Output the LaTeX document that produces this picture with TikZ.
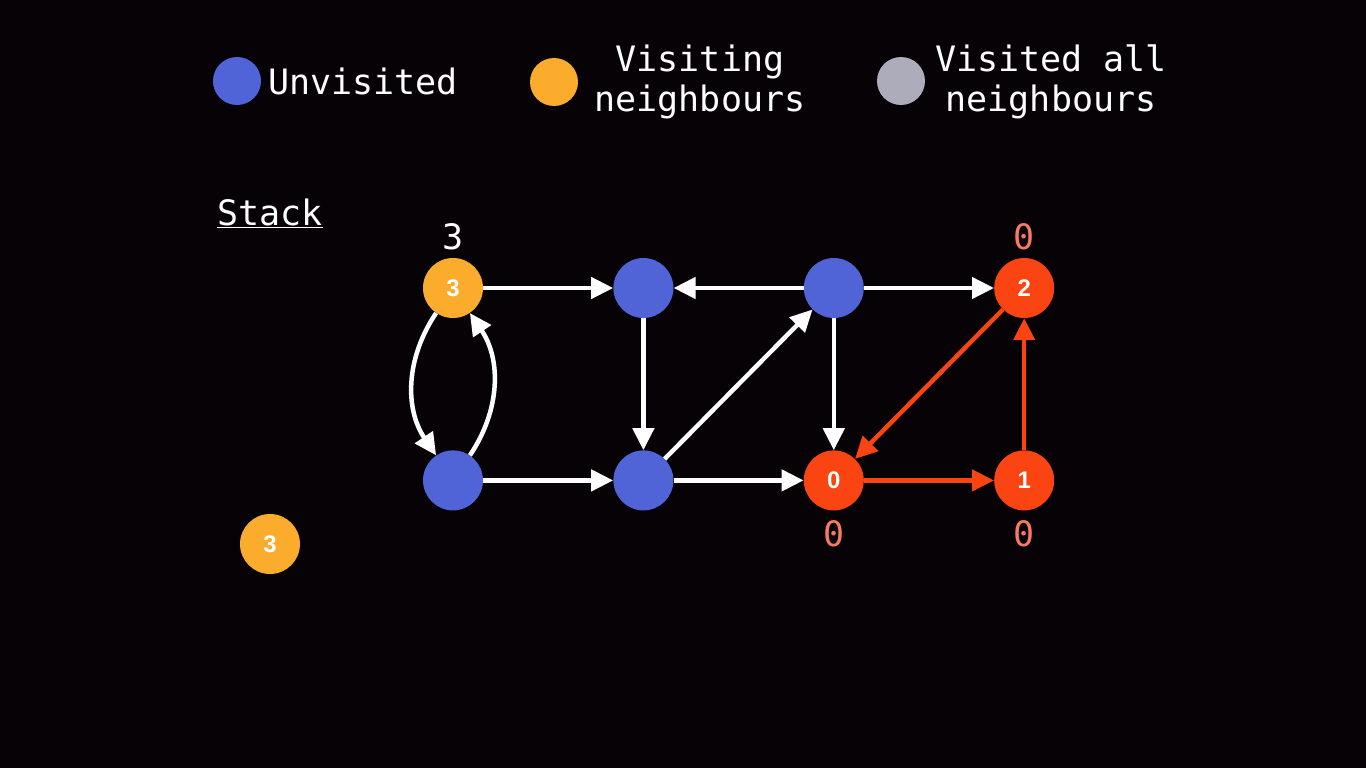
\documentclass[tikz,border=0pt]{standalone}
\usepackage{fontspec}
\setmonofont{DejaVu Sans Mono}
\setsansfont{Liberation Sans}
\usetikzlibrary{positioning,arrows.meta}
\definecolor{bgc}{RGB}{6,2,6}
\definecolor{blu}{RGB}{80,100,215}
\definecolor{org}{RGB}{252,172,45}
\definecolor{gry}{RGB}{172,172,186}
\definecolor{red}{RGB}{250,68,18}
\definecolor{slm}{RGB}{250,120,100}
\tikzset{
  vtx/.style={circle,minimum size=60pt,inner sep=0pt,text=white,font=\sffamily\bfseries\fontsize{24}{24}\selectfont},
  vb/.style={vtx,fill=blu},
  vo/.style={vtx,fill=org},
  vr/.style={vtx,fill=red},
  key/.style={circle,minimum size=48pt,inner sep=0pt},
  txt/.style={inner sep=0pt,text=white,align=center,font=\ttfamily\fontsize{35}{40}\selectfont},
  arr/.style={-{Triangle[length=22pt,width=21pt]},line width=4.5pt,draw=white},
  rarr/.style={arr,draw=red},
}
\begin{document}
\begin{tikzpicture}[x=1pt,y=1pt,node distance=132pt and 130pt]
  \fill[bgc] (0,0) rectangle (1366,-768);
  % legend
  \node[key,fill=blu] (k1) at (237,-81) {};
  \node[txt,right=7pt of k1] (t1) {Unvisited};
  \node[key,fill=org] (k2) at (554,-82) {};
  \node[txt] (t2) at (700,-82) {Visiting\\neighbours};
  \node[key,fill=gry] (k3) at (901,-81) {};
  \node[txt] (t3) at (1051,-82) {Visited all\\neighbours};
  % stack
  \node[txt,anchor=west] (stk) at (217,-213) {\underline{Stack}};
  \node[vo] (s1) at (270,-544) {3};
  % graph
  \node[vo] (a) at (453,-288) {3};
  \node[vb,right=of a] (b) {};
  \node[vb,right=of b] (c) {};
  \node[vr,right=of c] (d) {2};
  \node[vb,below=of a] (e) {};
  \node[vb,right=of e] (f) {};
  \node[vr,right=of f] (g) {0};
  \node[vr,right=of g] (h) {1};
  \node[txt,above=8pt of a] (la) {3};
  \node[txt,above=8pt of d,text=slm] (ld) {0};
  \node[txt,below=10pt of g,text=slm] (lg) {0};
  \node[txt,below=10pt of h,text=slm] (lh) {0};
  \draw[arr] (a) -- (b);
  \draw[arr] (c) -- (b);
  \draw[arr] (c) -- (d);
  \draw[arr] (b) -- (f);
  \draw[arr] (f) -- (c);
  \draw[arr] (c) -- (g);
  \draw[arr] (e) -- (f);
  \draw[arr] (f) -- (g);
  \draw[arr] (a) to[bend right=34] (e);
  \draw[arr] (e) to[bend right=34] (a);
  \draw[rarr] (d) -- (g);
  \draw[rarr] (g) -- (h);
  \draw[rarr] (h) -- (d);
\end{tikzpicture}
\end{document}
